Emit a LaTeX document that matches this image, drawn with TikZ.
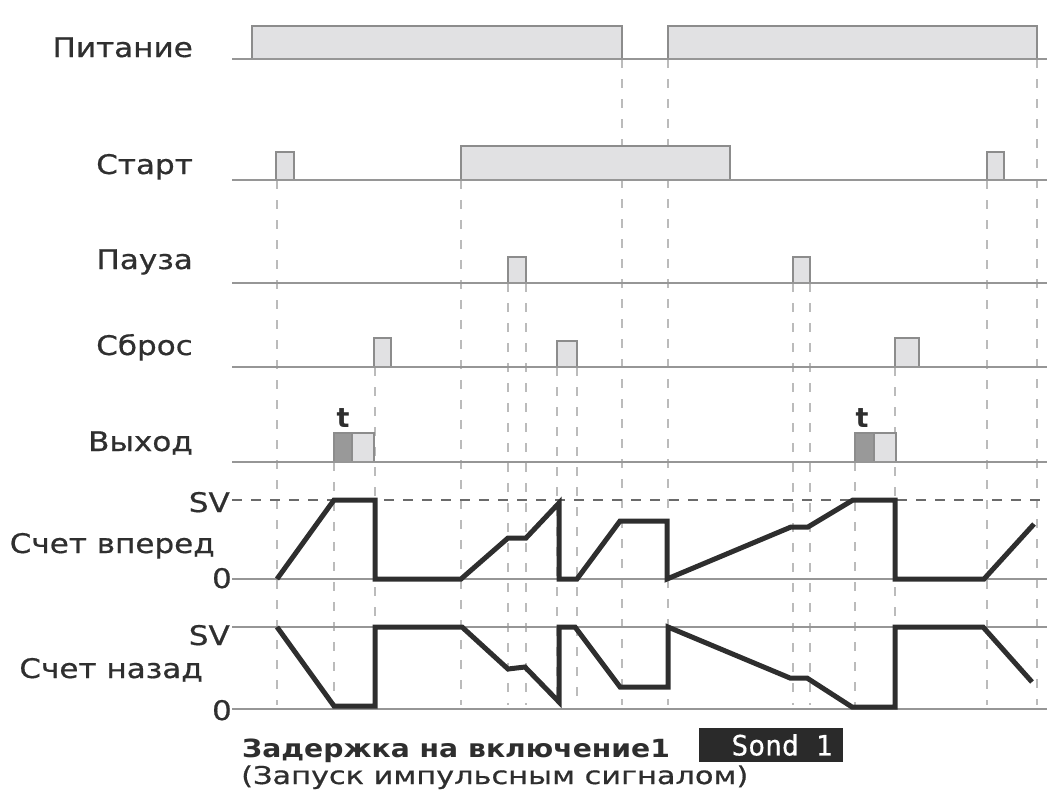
\documentclass[tikz,border=0pt]{standalone}
\usepackage{graphicx}
\usepackage{fontspec}
\setmainfont{DejaVu Sans}
\newfontfamily\lblfam[FakeBold=0.6]{DejaVu Sans}
\newfontfamily\dispfam[FakeBold=0.4]{DejaVu Sans Mono}
\definecolor{sigline}{HTML}{969696}
\definecolor{boxline}{HTML}{8C8C8C}
\definecolor{boxfill}{HTML}{E1E1E3}
\definecolor{darkbox}{HTML}{999999}
\definecolor{dashgray}{HTML}{BBBBBB}
\definecolor{svdash}{HTML}{6A6A6A}
\definecolor{tracecol}{HTML}{2E2E2E}
\definecolor{labelcol}{HTML}{2F2F2F}
\definecolor{dispbg}{HTML}{2A2A2A}
\newcommand\lblfont{\lblfam\fontsize{27}{29}\selectfont}
\newcommand\wlbl[1]{\scalebox{1.15}[1]{#1}}
\begin{document}
\begin{tikzpicture}[x=1pt,y=-1pt,
  sig/.style={draw=sigline, line width=2.6pt},
  zeroline/.style={draw=sigline, line width=2pt},
  svline/.style={draw=svdash, line width=2.2pt, dash pattern=on 10pt off 9pt},
  pulse/.style={draw=boxline, fill=boxfill, line width=1.4pt},
  darkpulse/.style={draw=boxline, fill=darkbox, line width=1.4pt},
  vdash/.style={draw=dashgray, line width=1.7pt, dash pattern=on 9pt off 11pt},
  trace/.style={draw=tracecol, line width=5pt, line join=miter},
  lbl/.style={anchor=base east, font=\lblfont, text=labelcol, inner sep=0pt},
  tlbl/.style={anchor=base, font=\fontsize{27}{29}\selectfont\bfseries, text=tracecol, inner sep=0pt}]
\useasboundingbox (0,0) rectangle (1047,798);

% dashed verticals
\foreach \x/\y in {277/180,334/462,375/367,461/180,508/283,526/283,557/367,577/367,622/59,668/59,793/283,810/283,855/462,895/367,987/180,1037/59}
  \draw[vdash] (\x,\y) -- (\x,705);

% Питание
\draw[pulse] (252,59) rectangle (622,26);
\draw[pulse] (668,59) rectangle (1037,26);
\draw[sig] (232,59) -- (1047,59);
% Старт
\draw[pulse] (276,180) rectangle (294,152);
\draw[pulse] (461,180) rectangle (730,146);
\draw[pulse] (987,180) rectangle (1004,152);
\draw[sig] (232,180) -- (1047,180);
% Пауза
\draw[pulse] (508,283) rectangle (526,257);
\draw[pulse] (793,283) rectangle (810,257);
\draw[sig] (232,283) -- (1047,283);
% Сброс
\draw[pulse] (374,367) rectangle (391,338);
\draw[pulse] (557,367) rectangle (577,341);
\draw[pulse] (895,367) rectangle (919,338);
\draw[sig] (232,367) -- (1047,367);
% Выход
\draw[darkpulse] (334,462) rectangle (352,433);
\draw[pulse] (352,462) rectangle (374,433);
\draw[darkpulse] (855,462) rectangle (874,433);
\draw[pulse] (874,462) rectangle (896,433);
\draw[sig] (232,462) -- (1047,462);
\node[tlbl] (t1) at (343,427) {t};
\node[tlbl] (t2) at (862,427) {t};

% count up axes
\draw[svline] (232,500) -- (1047,500);
\draw[zeroline] (232,579) -- (1047,579);
% count down axes
\draw[zeroline] (232,627) -- (1047,627);
\draw[zeroline] (232,709) -- (1047,709);

% traces
\draw[trace] (277,579) -- (334,500) -- (375,500) -- (375,579) -- (461,579) -- (508,538) -- (526,538) -- (559,503) -- (559,579) -- (577,579) -- (620,521) -- (667,521) -- (667,579) -- (791,527) -- (808,527) -- (853,500) -- (895,500) -- (895,579) -- (984,579) -- (1034,524);
\draw[trace] (277,627) -- (334,706) -- (375,706) -- (375,627) -- (462,627) -- (508,669) -- (525,667) -- (559,702) -- (559,627) -- (575,627) -- (620,687) -- (668,687) -- (668,627) -- (790,678) -- (807,678) -- (852,707) -- (895,707) -- (895,627) -- (983,627) -- (1032,682);

% labels
\node[lbl] (lp) at (193,57) {\wlbl{Питание}};
\node[lbl] (ls) at (193,174) {\wlbl{Старт}};
\node[lbl] (lpa) at (193,269) {\wlbl{Пауза}};
\node[lbl] (lsb) at (193,355) {\wlbl{Сброс}};
\node[lbl] (lv) at (193,451) {\wlbl{Выход}};
\node[lbl] (sv1) at (230,512) {\wlbl{SV}};
\node[lbl] (cu) at (215,553) {\wlbl{Счет вперед}};
\node[lbl] (z1) at (232,588) {\wlbl{0}};
\node[lbl] (sv2) at (230,645) {\wlbl{SV}};
\node[lbl] (cd) at (203,678) {\wlbl{Счет назад}};
\node[lbl] (z2) at (232,720) {\wlbl{0}};

% bottom caption
\node[anchor=base west, inner sep=0pt, font=\fontsize{25}{27}\selectfont\bfseries, text=tracecol] (cap1) at (242,757) {\scalebox{1.13}[1]{Задержка на включение1}};
\node[anchor=base west, inner sep=0pt, font=\lblfam\fontsize{24.5}{26}\selectfont, text=tracecol] (cap2) at (241,784) {\scalebox{1.24}[1]{(Запуск импульсным сигналом)}};
\fill[dispbg] (699,728) rectangle (843,762);
\node[font=\dispfam\fontsize{28}{30}\selectfont, text=white, inner sep=0pt] (disp) at (782,745) {Sond 1};
\end{tikzpicture}
\end{document}
